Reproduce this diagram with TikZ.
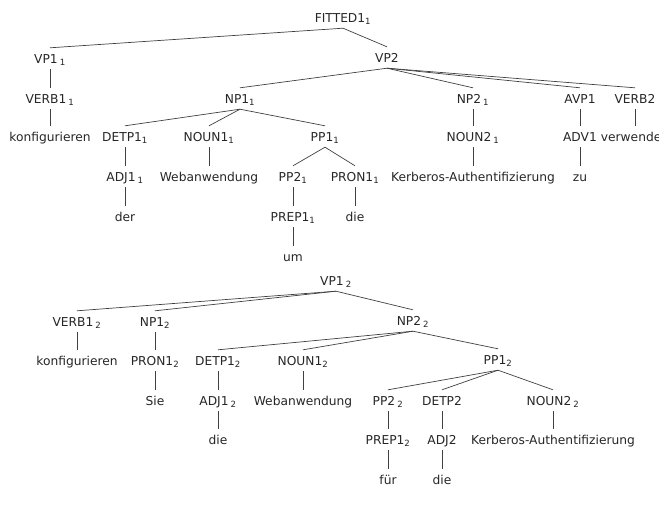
\documentclass[tikz,border=0pt]{standalone}
\usepackage{fontspec}
\setmainfont{DejaVu Sans}
\newcommand{\sub}[1]{\textsubscript{#1}}
\begin{document}
\begin{tikzpicture}[x=1pt,y=-1pt,
  lab/.style={font=\fontsize{12.25}{14}\selectfont, text=black!85, inner xsep=1pt, inner ysep=5.5pt, text height=9pt, text depth=0pt, anchor=center},
  edge/.style={draw=black!75, line width=0.7pt}]
\useasboundingbox (0,0) rectangle (659,517);
\clip (0,0) rectangle (659,517);
% ---------- tree 1 ----------
\node[lab] (f1) at (343,18) {FITTED1\sub{1}};
\node[lab] (vp1a) at (50,59) {VP1\,\sub{1}};
\node[lab] (vp2) at (387,58) {VP2};
\node[lab] (verb1a) at (50,99) {VERB1\,\sub{1}};
\node[lab] (np1a) at (240,99) {NP1\sub{1}};
\node[lab] (np2a) at (473,99) {NP2\,\sub{1}};
\node[lab] (avp1) at (580,99) {AVP1};
\node[lab] (verb2) at (635,99) {VERB2};
\node[lab] (konf1) at (50,137) {konfigurieren};
\node[lab] (detp1a) at (125,137) {DETP1\sub{1}};
\node[lab] (noun1a) at (209,137) {NOUN1\sub{1}};
\node[lab] (pp1a) at (325,137) {PP1\sub{1}};
\node[lab] (noun2a) at (473,137) {NOUN2\,\sub{1}};
\node[lab] (adv1) at (580,137) {ADV1};
\node[lab] (verw) at (635,137) {verwenden};
\node[lab] (adj1a) at (125,177) {ADJ1\,\sub{1}};
\node[lab] (web1) at (209,177) {Webanwendung};
\node[lab] (pp2a) at (293,177) {PP2\sub{1}};
\node[lab] (pron1a) at (355,177) {PRON1\sub{1}};
\node[lab] (kerb1) at (473,177) {Kerberos-Authentifizierung};
\node[lab] (zu) at (580,177) {zu};
\node[lab] (der) at (125,217) {der};
\node[lab] (prep1a) at (293,217) {PREP1\sub{1}};
\node[lab] (die1) at (355,217) {die};
\node[lab] (um) at (293,257) {um};
% ---------- tree 2 ----------
\node[lab] (vp1b) at (336,281) {VP1\,\sub{2}};
\node[lab] (verb1b) at (77,322) {VERB1\,\sub{2}};
\node[lab] (np1b) at (155,322) {NP1\sub{2}};
\node[lab] (np2b) at (413,321) {NP2\,\sub{2}};
\node[lab] (konf2) at (77,361) {konfigurieren};
\node[lab] (pron1b) at (155,361) {PRON1\sub{2}};
\node[lab] (detp1b) at (218,361) {DETP1\sub{2}};
\node[lab] (noun1b) at (303,361) {NOUN1\sub{2}};
\node[lab] (pp1b) at (498,360) {PP1\sub{2}};
\node[lab] (sie) at (155,401) {Sie};
\node[lab] (adj1b) at (218,401) {ADJ1\,\sub{2}};
\node[lab] (web2) at (303,401) {Webanwendung};
\node[lab] (pp2b) at (388,401) {PP2\,\sub{2}};
\node[lab] (detp2) at (442,401) {DETP2};
\node[lab] (noun2b) at (553,401) {NOUN2\,\sub{2}};
\node[lab] (die2) at (218,440) {die};
\node[lab] (prep1b) at (388,440) {PREP1\sub{2}};
\node[lab] (adj2) at (442,440) {ADJ2};
\node[lab] (kerb2) at (553,440) {Kerberos-Authentifizierung};
\node[lab] (fuer) at (388,480) {für};
\node[lab] (die3) at (442,480) {die};
% ---------- edges ----------
\foreach \p/\c in {f1/vp1a, f1/vp2, vp1a/verb1a, verb1a/konf1,
  vp2/np1a, vp2/np2a, vp2/avp1, vp2/verb2,
  np1a/detp1a, np1a/noun1a, np1a/pp1a, np2a/noun2a, avp1/adv1, verb2/verw,
  detp1a/adj1a, noun1a/web1, pp1a/pp2a, pp1a/pron1a, noun2a/kerb1, adv1/zu,
  adj1a/der, pp2a/prep1a, pron1a/die1, prep1a/um,
  vp1b/verb1b, vp1b/np1b, vp1b/np2b, verb1b/konf2, np1b/pron1b,
  np2b/detp1b, np2b/noun1b, np2b/pp1b,
  pron1b/sie, detp1b/adj1b, noun1b/web2, pp1b/pp2b, pp1b/detp2, pp1b/noun2b,
  adj1b/die2, pp2b/prep1b, detp2/adj2, noun2b/kerb2,
  prep1b/fuer, adj2/die3}
  \draw[edge] (\p.south) -- ([yshift=1pt]\c.north);
\end{tikzpicture}
\end{document}
